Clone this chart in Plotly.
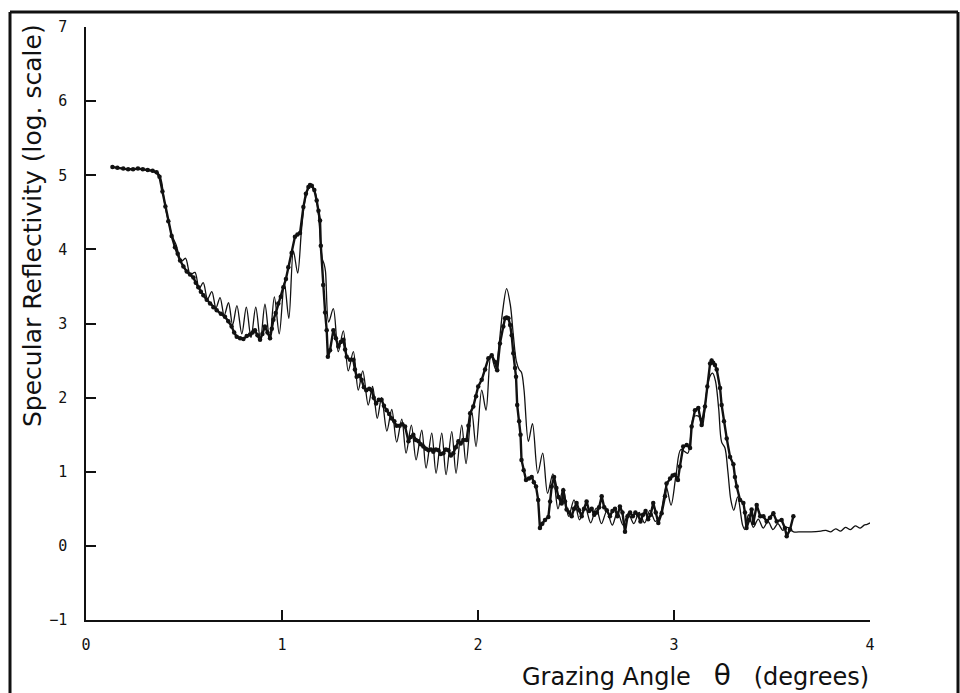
import plotly.graph_objects as go

# Measured reflectivity (thick line with dots): grazing angle (deg), log10 reflectivity
meas_x = [0.135, 0.16, 0.19, 0.215, 0.24, 0.265, 0.29, 0.315, 0.34, 0.36, 0.375, 0.39, 0.405, 0.42, 0.437,
          0.454, 0.468, 0.48, 0.497, 0.514, 0.531, 0.548, 0.56, 0.573, 0.586, 0.599, 0.616, 0.633, 0.65, 0.667,
          0.688, 0.709, 0.726, 0.743, 0.756, 0.769, 0.786, 0.803, 0.82, 0.837, 0.85, 0.862, 0.875, 0.888, 0.9,
          0.913, 0.926, 0.939, 0.948, 0.956, 0.968, 0.981, 0.994, 1.007, 1.02, 1.032, 1.049, 1.066, 1.079, 1.092,
          1.109, 1.122, 1.135, 1.143, 1.152, 1.165, 1.177, 1.186, 1.194, 1.198, 1.21, 1.22, 1.228, 1.234, 1.245,
          1.262, 1.275, 1.287, 1.30, 1.313, 1.322, 1.33, 1.347, 1.364, 1.372, 1.381, 1.394, 1.406, 1.418, 1.43,
          1.445, 1.457, 1.468, 1.48, 1.494, 1.508, 1.52, 1.534, 1.547, 1.56, 1.573, 1.585, 1.60, 1.614, 1.628,
          1.645, 1.657, 1.67, 1.683, 1.696, 1.708, 1.721, 1.734, 1.747, 1.76, 1.772, 1.785, 1.798, 1.81, 1.823,
          1.836, 1.849, 1.862, 1.874, 1.887, 1.90, 1.912, 1.925, 1.942, 1.951, 1.96, 1.976, 1.99, 2.001, 2.019,
          2.036, 2.053, 2.07, 2.087, 2.098, 2.112, 2.129, 2.138, 2.146, 2.155, 2.164, 2.172, 2.18, 2.189, 2.194,
          2.20, 2.21, 2.217, 2.222, 2.233, 2.245, 2.26, 2.274, 2.285, 2.296, 2.307, 2.316, 2.328, 2.342, 2.359,
          2.368, 2.376, 2.388, 2.40, 2.41, 2.427, 2.435, 2.444, 2.452, 2.465, 2.478, 2.49, 2.503, 2.516, 2.529,
          2.541, 2.554, 2.567, 2.58, 2.593, 2.606, 2.618, 2.631, 2.644, 2.657, 2.673, 2.686, 2.699, 2.711, 2.724,
          2.737, 2.75, 2.763, 2.776, 2.79, 2.803, 2.816, 2.829, 2.842, 2.855, 2.868, 2.881, 2.894, 2.907, 2.92,
          2.937, 2.954, 2.962, 2.98, 2.993, 3.005, 3.02, 3.03, 3.047, 3.065, 3.082, 3.09, 3.107, 3.124, 3.141,
          3.158, 3.17, 3.184, 3.192, 3.20, 3.209, 3.218, 3.235, 3.243, 3.255, 3.269, 3.286, 3.303, 3.311, 3.32,
          3.337, 3.354, 3.362, 3.37, 3.383, 3.396, 3.405, 3.422, 3.44, 3.456, 3.473, 3.49, 3.507, 3.524, 3.549,
          3.566, 3.575, 3.592, 3.609]
meas_y = [5.11, 5.10, 5.09, 5.08, 5.08, 5.09, 5.08, 5.07, 5.06, 5.04, 4.98, 4.78, 4.58, 4.38, 4.18,
          4.03, 3.94, 3.85, 3.77, 3.70, 3.66, 3.62, 3.55, 3.49, 3.43, 3.38, 3.32, 3.27, 3.22, 3.18,
          3.13, 3.09, 3.03, 2.96, 2.88, 2.82, 2.80, 2.79, 2.83, 2.85, 2.88, 2.91, 2.84, 2.78, 2.86,
          2.96, 2.88, 2.80, 2.93, 3.05, 3.14, 3.27, 3.36, 3.49, 3.60, 3.76, 3.95, 4.17, 4.20, 4.22,
          4.57, 4.75, 4.84, 4.87, 4.86, 4.80, 4.66, 4.52, 4.39, 4.05, 3.52, 3.15, 2.91, 2.55, 2.64,
          2.91, 2.80, 2.69, 2.75, 2.78, 2.65, 2.55, 2.51, 2.51, 2.38, 2.28, 2.30, 2.24, 2.14, 2.10,
          2.12, 2.10, 2.00, 1.92, 1.97, 1.97, 1.89, 1.83, 1.78, 1.72, 1.68, 1.62, 1.62, 1.64, 1.61,
          1.41, 1.47, 1.50, 1.43, 1.41, 1.37, 1.34, 1.31, 1.29, 1.30, 1.27, 1.30, 1.29, 1.24, 1.25,
          1.30, 1.29, 1.22, 1.25, 1.33, 1.41, 1.38, 1.43, 1.43, 1.62, 1.79, 1.88, 2.02, 2.15, 2.24,
          2.38, 2.53, 2.57, 2.48, 2.37, 2.73, 2.96, 3.07, 3.08, 3.07, 2.98, 2.84, 2.60, 2.40, 2.28,
          1.90, 1.68, 1.50, 1.16, 1.02, 0.89, 0.91, 0.93, 0.86, 0.80, 0.62, 0.24, 0.30, 0.35, 0.39,
          0.60, 0.80, 0.93, 0.78, 0.66, 0.57, 0.75, 0.60, 0.49, 0.45, 0.40, 0.50, 0.58, 0.48, 0.40,
          0.50, 0.60, 0.47, 0.50, 0.42, 0.45, 0.52, 0.67, 0.52, 0.48, 0.40, 0.47, 0.50, 0.40, 0.53,
          0.45, 0.19, 0.40, 0.45, 0.40, 0.45, 0.42, 0.33, 0.42, 0.47, 0.36, 0.42, 0.58, 0.45, 0.31,
          0.44, 0.67, 0.84, 0.91, 0.95, 0.96, 0.89, 1.07, 1.34, 1.36, 1.32, 1.61, 1.83, 1.86, 1.63,
          1.88, 2.15, 2.46, 2.50, 2.47, 2.44, 2.38, 2.13, 1.90, 1.68, 1.45, 1.20, 1.10, 0.93, 0.80,
          0.62, 0.58, 0.45, 0.24, 0.35, 0.49, 0.31, 0.55, 0.40, 0.40, 0.33, 0.38, 0.44, 0.33, 0.35,
          0.24, 0.13, 0.22, 0.40]

# Calculated reflectivity (thin line)
calc_x = [0.135, 0.2, 0.25, 0.3, 0.34, 0.37, 0.385, 0.40, 0.42, 0.44, 0.46, 0.487, 0.508, 0.532, 0.556,
          0.577, 0.598, 0.62, 0.642, 0.663, 0.684, 0.705, 0.727, 0.748, 0.770, 0.795, 0.818, 0.842, 0.866, 0.89,
          0.913, 0.937, 0.961, 0.986, 1.012, 1.035, 1.058, 1.08, 1.10, 1.12, 1.146, 1.168, 1.185, 1.198, 1.205,
          1.215, 1.222, 1.238, 1.262, 1.287, 1.313, 1.338, 1.364, 1.389, 1.412, 1.44, 1.462, 1.486, 1.508, 1.535,
          1.56, 1.585, 1.611, 1.633, 1.66, 1.684, 1.713, 1.735, 1.764, 1.786, 1.815, 1.837, 1.866, 1.888, 1.917,
          1.939, 1.968, 1.99, 2.019, 2.041, 2.066, 2.09, 2.105, 2.125, 2.146, 2.165, 2.18, 2.195, 2.21, 2.222,
          2.235, 2.257, 2.278, 2.305, 2.33, 2.355, 2.382, 2.408, 2.435, 2.462, 2.49, 2.518, 2.546, 2.575, 2.603,
          2.63, 2.657, 2.685, 2.712, 2.74, 2.767, 2.795, 2.822, 2.85, 2.877, 2.905, 2.93, 2.96, 2.985, 3.01,
          3.035, 3.07, 3.10, 3.125, 3.145, 3.165, 3.182, 3.197, 3.212, 3.228, 3.243, 3.26, 3.275, 3.29, 3.305,
          3.325, 3.35, 3.362, 3.38, 3.405, 3.43, 3.455, 3.48, 3.505, 3.53, 3.555, 3.58, 3.61, 3.65, 3.70,
          3.75, 3.775, 3.80, 3.825, 3.85, 3.875, 3.90, 3.925, 3.95, 3.97, 3.985, 4.0]
calc_y = [5.11, 5.09, 5.08, 5.08, 5.06, 5.02, 4.92, 4.64, 4.38, 4.18, 4.06, 3.84, 3.88, 3.66, 3.69,
          3.47, 3.55, 3.33, 3.43, 3.21, 3.35, 3.11, 3.28, 2.98, 3.24, 2.86, 3.22, 2.81, 3.22, 2.78,
          3.26, 2.78, 3.36, 2.86, 3.55, 3.07, 3.98, 3.68, 4.28, 4.70, 4.87, 4.78, 4.50, 4.05, 3.88,
          3.80, 3.70, 3.02, 3.20, 2.62, 2.90, 2.36, 2.62, 2.10, 2.36, 1.90, 2.15, 1.72, 2.00, 1.55,
          1.84, 1.40, 1.71, 1.25, 1.63, 1.16, 1.56, 1.05, 1.52, 0.98, 1.52, 0.96, 1.54, 0.98, 1.63,
          1.11, 1.81, 1.34, 2.10, 1.83, 2.58, 2.38, 2.65, 3.15, 3.47, 3.25, 2.85, 2.50, 2.38, 2.34,
          2.10, 1.41, 1.65, 0.98, 1.25, 0.71, 0.97, 0.50, 0.78, 0.40, 0.62, 0.35, 0.53, 0.31, 0.51,
          0.30, 0.47, 0.28, 0.46, 0.28, 0.44, 0.30, 0.45, 0.31, 0.48, 0.33, 0.42, 0.80, 0.55, 0.95,
          1.30, 1.25, 1.74, 1.75, 1.62, 2.05, 2.28, 2.33, 2.22, 1.85, 1.40, 1.32, 1.00, 0.62, 0.48,
          0.66, 0.28, 0.22, 0.42, 0.25, 0.36, 0.24, 0.33, 0.22, 0.30, 0.21, 0.25, 0.19, 0.19, 0.19,
          0.20, 0.21, 0.19, 0.23, 0.20, 0.25, 0.22, 0.27, 0.24, 0.28, 0.29, 0.31]

x_ticks = [0, 1, 2, 3, 4]
y_ticks = [-1, 0, 1, 2, 3, 4, 5, 6, 7]

x_title = "Grazing Angle\u00a0\u00a0\u00a0<span style='font-size:28px'>\u03b8</span>\u00a0\u00a0\u00a0(degrees)"
y_title = "Specular Reflectivity (log. scale)"

fig = go.Figure()
fig.add_trace(go.Scatter(x=calc_x, y=calc_y, mode="lines",
                         line=dict(color="#111111", width=1.3, shape="spline", smoothing=0.9),
                         showlegend=False, hoverinfo="skip"))
fig.add_trace(go.Scatter(x=meas_x, y=meas_y, mode="lines+markers",
                         line=dict(color="#111111", width=2.4),
                         marker=dict(color="#111111", size=4.5),
                         showlegend=False))

axis_common = dict(showgrid=False, zeroline=False, showline=True, linecolor="#111111", linewidth=1.6,
                   ticks="inside", ticklen=10, tickwidth=1.5, tickcolor="#111111",
                   tickfont=dict(family="DejaVu Sans Mono", size=15, color="#111111"))

fig.update_xaxes(range=[0, 4], tickvals=x_ticks, ticklabelstandoff=10, **axis_common)
fig.update_yaxes(range=[-1, 7], tickvals=y_ticks, ticklabelstandoff=14, **axis_common)

L, R, T, B = 86, 90, 27, 73
W, H = 960, 693
pw, ph = W - L - R, H - T - B

def px(xp):
    return (xp - L) / pw

def py(yp):
    return (H - B - yp) / ph

fig.update_layout(
    width=W, height=H,
    margin=dict(l=L, r=R, t=T, b=B),
    paper_bgcolor="white", plot_bgcolor="white",
    showlegend=False,
    annotations=[
        dict(text=y_title, xref="paper", yref="paper", x=px(32), y=py(226), textangle=-90,
             xanchor="center", yanchor="middle", showarrow=False,
             font=dict(family="DejaVu Sans", size=25, color="#111111")),
        dict(text=x_title, xref="paper", yref="paper", x=px(871), y=py(676),
             xanchor="right", yanchor="middle", showarrow=False,
             font=dict(family="DejaVu Sans", size=24, color="#111111")),
    ],
    shapes=[
        dict(type="line", xref="paper", yref="paper", x0=px(10), x1=px(10), y0=py(12), y1=py(700),
             line=dict(color="#111111", width=3)),
        dict(type="line", xref="paper", yref="paper", x0=px(10), x1=px(958), y0=py(12), y1=py(12),
             line=dict(color="#111111", width=3)),
        dict(type="line", xref="paper", yref="paper", x0=px(958), x1=px(958), y0=py(12), y1=py(700),
             line=dict(color="#111111", width=3)),
    ],
)

fig.write_html("out.html")
